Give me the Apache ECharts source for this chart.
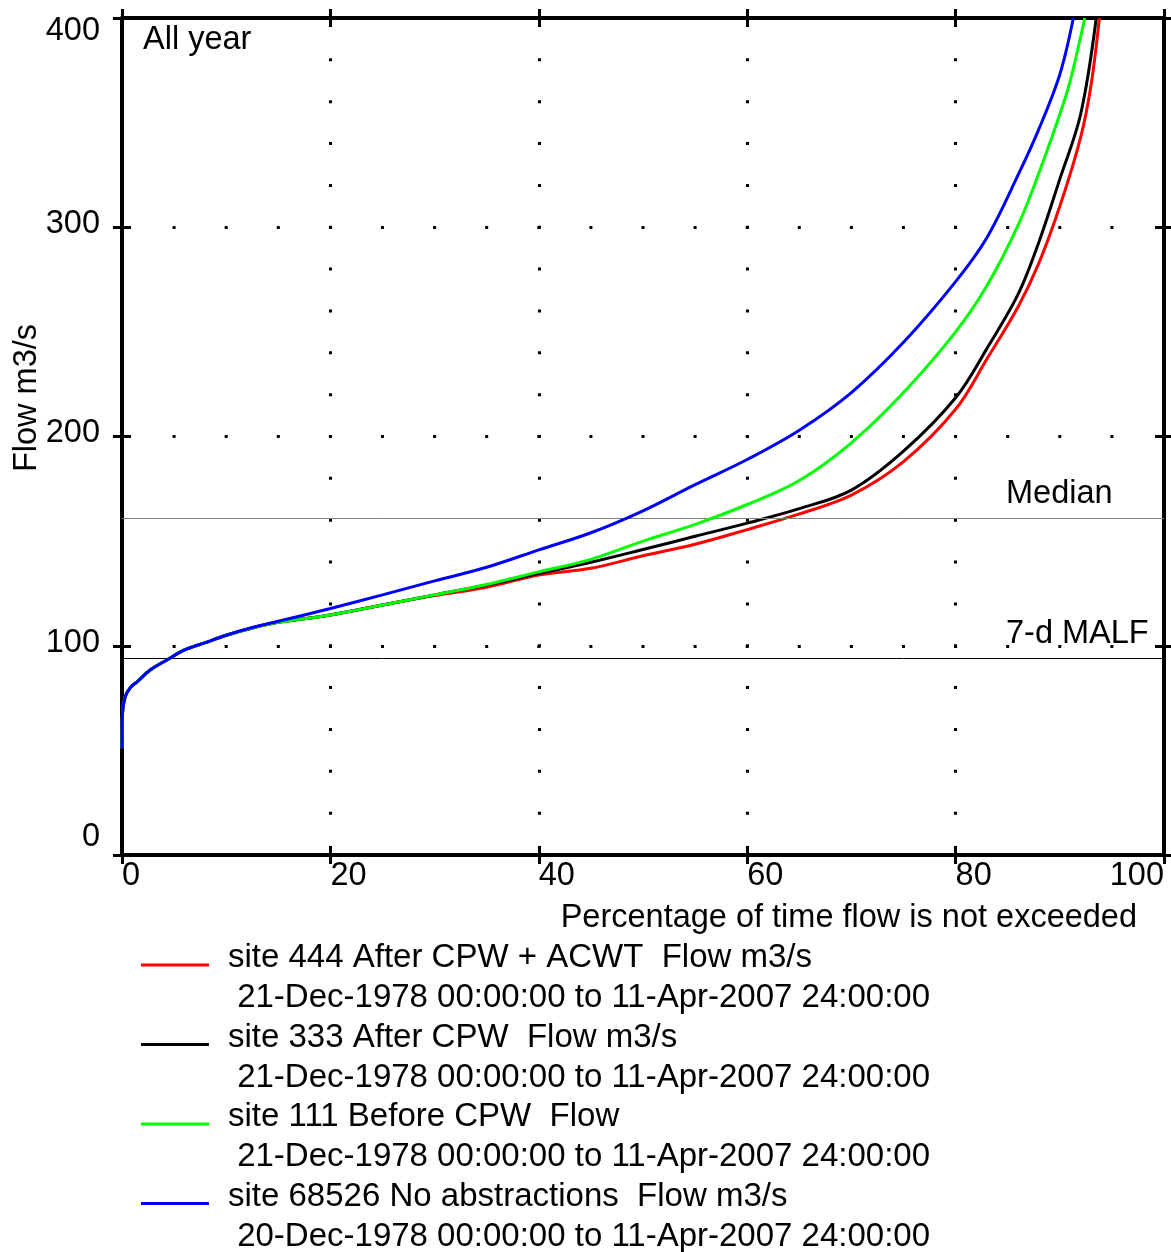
<!DOCTYPE html>
<html>
<head>
<meta charset="utf-8">
<script src="https://cdn.jsdelivr.net/npm/echarts@6/dist/echarts.min.js"></script>
<style>
  html, body { margin: 0; padding: 0; background: #fff; }
  #main { width: 1171px; height: 1252px; }
</style>
</head>
<body>
<div id="main"></div>
<script>
// percentage of time flow is not exceeded / flow m3/s
var redPct = [0, 0.05, 0.3, 0.8, 1.5, 2.7, 4.3, 6, 8, 10, 12.5, 15, 20, 25, 30, 35, 40, 45, 50, 55, 60, 65, 70, 75, 80, 83, 86, 88, 90, 92, 93, 93.8];
var redFlow = [51, 68, 75.5, 80, 83, 88.4, 93.2, 98, 101.5, 105, 108.5, 111.2, 114.7, 119.5, 124, 128, 133.8, 137, 143, 148.5, 155.5, 163, 172, 188, 213, 237, 262, 283, 310, 343, 368, 400];

var blackPct = [0, 0.05, 0.3, 0.8, 1.5, 2.7, 4.3, 6, 8, 10, 12.5, 15, 20, 25, 30, 35, 40, 45, 50, 55, 60, 65, 70, 75, 80, 83, 86, 88, 90, 92, 93.5];
var blackFlow = [51, 68, 75.5, 80, 83, 88.4, 93.2, 98, 101.5, 105, 108.5, 111.2, 114.7, 119.5, 124.3, 129, 134.5, 139.9, 146, 152.3, 158.6, 165.5, 174.4, 193, 218.5, 242, 268, 293, 323, 354, 400];

var greenPct = [0, 0.05, 0.3, 0.8, 1.5, 2.7, 4.3, 6, 8, 10, 12.5, 15, 20, 25, 30, 35, 40, 45, 50, 55, 60, 65, 70, 75, 80, 83, 86, 88, 90, 91, 92.4];
var greenFlow = [51, 68, 75.5, 80, 83, 88.4, 93.2, 98, 101.5, 105, 108.5, 111.2, 114.7, 119.5, 124.3, 129.3, 135.3, 141.3, 150, 158, 167.5, 179, 197, 221, 250, 272, 301, 326, 354, 370, 400];

var bluePct = [0, 0.05, 0.3, 0.8, 1.5, 2.7, 4.3, 6, 8, 10, 12.5, 15, 20, 25, 30, 35, 40, 45, 50, 55, 60, 65, 70, 75, 80, 83, 86, 88, 90, 91.3];
var blueFlow = [51, 68, 75.5, 80, 83, 88.4, 93.2, 98, 101.5, 105, 108.7, 111.7, 117.8, 124.3, 131, 137.5, 145.8, 154, 164.5, 177, 189, 203, 221, 245, 274, 295, 325, 347, 373, 400];

var seriesNames = [
    'site 444 After CPW + ACWT  Flow m3/s\n 21-Dec-1978 00:00:00 to 11-Apr-2007 24:00:00',
    'site 333 After CPW  Flow m3/s\n 21-Dec-1978 00:00:00 to 11-Apr-2007 24:00:00',
    'site 111 Before CPW  Flow\n 21-Dec-1978 00:00:00 to 11-Apr-2007 24:00:00',
    'site 68526 No abstractions  Flow m3/s\n 20-Dec-1978 00:00:00 to 11-Apr-2007 24:00:00'
];
var seriesColors = ['#ff0000', '#000000', '#00ff00', '#0000ff'];

var refLevels = [161, 94];          // Median, 7-d MALF
var refNames = ['Median', '7-d MALF'];
var refColors = ['#808080', '#000000'];

var xTicks = [0, 100, 20];   // min, max, interval
var yTicks = [0, 400, 100];

var FONT = 'Liberation Sans, Arial, sans-serif';
var chart = echarts.init(document.getElementById('main'));

function pairs(xs, ys) {
    return xs.map(function (x, i) { return [x, ys[i]]; });
}

var gridBox = { left: 122, top: 18, width: 1042, height: 837 };
var axisLineStyle = { color: '#000', width: 4 };
var tickStyle = { color: '#000', width: 3 };

function xAxisOf(grid, pos, inside, main) {
    return {
        type: 'value', gridIndex: grid, position: pos,
        min: xTicks[0], max: xTicks[1], interval: xTicks[2],
        axisLine: { show: main, onZero: false, lineStyle: axisLineStyle },
        axisTick: { show: true, inside: inside, length: 9, lineStyle: tickStyle },
        axisLabel: main && pos === 'bottom' ? {
            show: true, fontFamily: FONT, fontSize: 32.5, color: '#000',
            align: 'left', alignMaxLabel: 'right', verticalAlign: 'top', margin: 5
        } : { show: false },
        splitLine: main && pos === 'bottom' ? {
            show: true,
            lineStyle: { color: '#000', width: 3, type: [3, 38.85], dashOffset: 1.5 }
        } : { show: false }
    };
}

function yAxisOf(grid, pos, inside, main) {
    return {
        type: 'value', gridIndex: grid, position: pos,
        min: yTicks[0], max: yTicks[1], interval: yTicks[2],
        axisLine: { show: main, onZero: false, lineStyle: axisLineStyle },
        axisTick: { show: true, inside: inside, length: 9, lineStyle: tickStyle },
        axisLabel: main && pos === 'left' ? {
            show: true, margin: 22,
            formatter: function (v) {
                if (v === yTicks[1]) return '{t|' + v + '}';
                if (v === yTicks[0]) return '{b|' + v + '}';
                return '{m|' + v + '}';
            },
            rich: {
                t: { fontFamily: FONT, fontSize: 32.5, color: '#000', padding: [26, 0, 0, 0] },
                m: { fontFamily: FONT, fontSize: 32.5, color: '#000', padding: [0, 0, 6, 0] },
                b: { fontFamily: FONT, fontSize: 32.5, color: '#000', padding: [0, 0, 36, 0] }
            }
        } : { show: false },
        splitLine: main && pos === 'left' ? {
            show: true,
            lineStyle: { color: '#000', width: 3, type: [3, 49.1], dashOffset: 1.5 }
        } : { show: false }
    };
}

var allPct = [redPct, blackPct, greenPct, bluePct];
var allFlow = [redFlow, blackFlow, greenFlow, blueFlow];

var series = allPct.map(function (p, i) {
    var s = {
        name: seriesNames[i],
        type: 'line',
        xAxisIndex: 0, yAxisIndex: 0,
        data: pairs(p, allFlow[i]),
        showSymbol: false,
        smooth: 0.35,
        clip: true,
        lineStyle: { color: seriesColors[i], width: 3 },
        itemStyle: { color: seriesColors[i] },
        z: 3 + i
    };
    if (i === 0) {
        s.markLine = {
            silent: true, symbol: 'none', animation: false,
            label: { show: false },
            data: refLevels.map(function (v, k) {
                return { yAxis: v, lineStyle: { color: refColors[k], width: 1, type: 'solid' } };
            })
        };
    }
    return s;
});

var legendText = { fontFamily: FONT, fontSize: 33, color: '#000', lineHeight: 40 };

var option = {
    animation: false,
    backgroundColor: '#fff',
    grid: [
        Object.assign({}, gridBox),
        Object.assign({}, gridBox)
    ],
    xAxis: [
        xAxisOf(0, 'bottom', false, true),
        xAxisOf(0, 'top', false, true),
        xAxisOf(1, 'bottom', true, false),
        xAxisOf(1, 'top', true, false)
    ],
    yAxis: [
        yAxisOf(0, 'left', false, true),
        yAxisOf(0, 'right', false, true),
        yAxisOf(1, 'left', true, false),
        yAxisOf(1, 'right', true, false)
    ],
    legend: {
        orient: 'vertical',
        left: 141, top: 920, height: 600,
        padding: 0,
        selectedMode: false,
        icon: 'rect',
        itemWidth: 68, itemHeight: 3,
        itemGap: -15,
        data: seriesNames,
        formatter: function (name) {
            var lines = name.split('\n');
            return '{s| }\n{a|' + lines[0] + '}\n{a|' + lines[1] + '}';
        },
        textStyle: {
            fontFamily: FONT, fontSize: 33, color: '#000', padding: [0, 0, 0, 14],
            rich: {
                s: { fontFamily: FONT, fontSize: 10, lineHeight: 26 },
                a: legendText
            }
        }
    },
    graphic: [
        { type: 'text', x: 143, y: 40, style: { text: 'All year', font: '32.5px ' + FONT, fill: '#000', align: 'left', verticalAlign: 'middle' } },
        { type: 'text', x: 27, y: 398, rotation: Math.PI / 2, style: { text: 'Flow m3/s', font: '32.5px ' + FONT, fill: '#000', align: 'center', verticalAlign: 'middle' } },
        { type: 'text', x: 1137, y: 918, style: { text: 'Percentage of time flow is not exceeded', font: '32.5px ' + FONT, fill: '#000', align: 'right', verticalAlign: 'middle' } },
        { type: 'text', x: 1006, y: 494, style: { text: refNames[0], font: '32.5px ' + FONT, fill: '#000', align: 'left', verticalAlign: 'middle' } },
        { type: 'text', x: 1006, y: 634, style: { text: refNames[1], font: '32.5px ' + FONT, fill: '#000', align: 'left', verticalAlign: 'middle' } }
    ],
    series: series
};

chart.setOption(option);

window.addEventListener('resize', function () {
    chart.resize();
});
</script>
</body>
</html>
